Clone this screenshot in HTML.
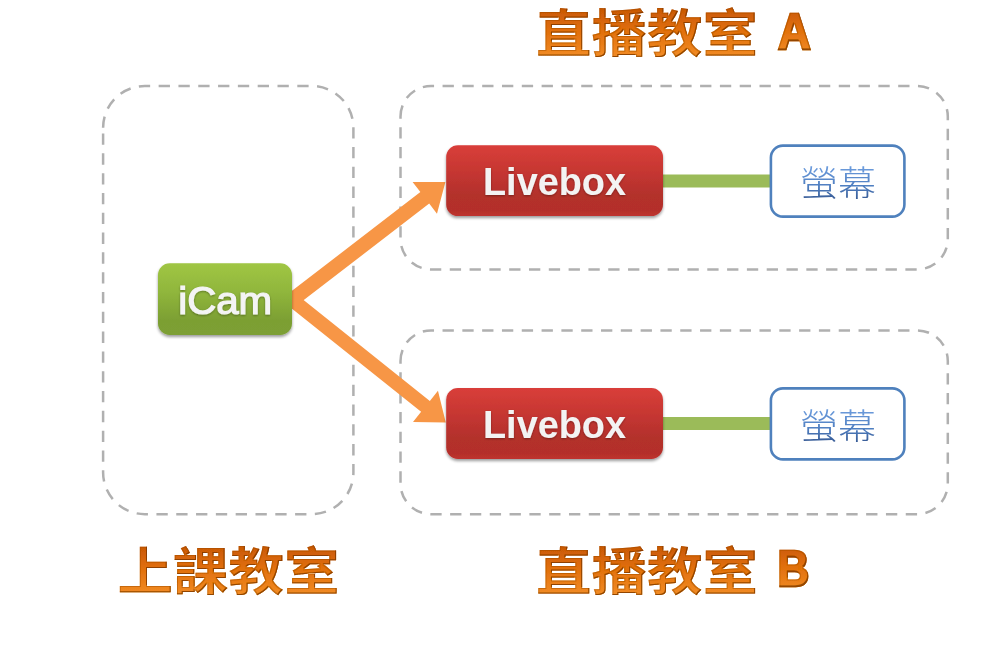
<!DOCTYPE html>
<html lang="zh-Hant">
<head>
<meta charset="utf-8">
<title>直播教室</title>
<style>
html,body{margin:0;padding:0;background:#fff;}
body{width:999px;height:645px;overflow:hidden;font-family:"Liberation Sans","Noto Sans CJK TC",sans-serif;}
svg{display:block;}
</style>
</head>
<body>
<svg width="999" height="645" viewBox="0 0 999 645">
<defs>
<linearGradient id="gGreen" x1="0" y1="0" x2="0" y2="1">
 <stop offset="0" stop-color="#a0c644"/><stop offset="0.4" stop-color="#90b63c"/><stop offset="0.8" stop-color="#7c9f33"/><stop offset="1" stop-color="#7d9f34"/>
</linearGradient>
<linearGradient id="gRed" x1="0" y1="0" x2="0" y2="1">
 <stop offset="0" stop-color="#d93e3a"/><stop offset="0.35" stop-color="#c73732"/><stop offset="0.7" stop-color="#b3302c"/><stop offset="0.92" stop-color="#b42f2b"/><stop offset="1" stop-color="#bf322e"/>
</linearGradient>
<linearGradient id="gBlueTxt" x1="0" y1="0" x2="0" y2="1">
 <stop offset="0" stop-color="#6f9fe0"/><stop offset="0.55" stop-color="#4f7ec0"/><stop offset="1" stop-color="#2f4f86"/>
</linearGradient>
<linearGradient id="gOrTxt" x1="0" y1="0" x2="0" y2="1">
 <stop offset="0" stop-color="#c45404"/><stop offset="0.4" stop-color="#de6c0b"/><stop offset="0.8" stop-color="#ee851e"/><stop offset="1" stop-color="#f39230"/>
</linearGradient>
<filter id="sh" x="-10%" y="-20%" width="120%" height="150%">
 <feGaussianBlur in="SourceAlpha" stdDeviation="1.6"/>
 <feOffset dx="0" dy="1.8" result="b"/>
 <feComponentTransfer><feFuncA type="linear" slope="0.4"/></feComponentTransfer>
 <feMerge><feMergeNode/><feMergeNode in="SourceGraphic"/></feMerge>
</filter>
<filter id="tsh" x="-5%" y="-10%" width="110%" height="130%">
 <feGaussianBlur in="SourceAlpha" stdDeviation="0.8"/>
 <feOffset dx="0" dy="1" result="b"/>
 <feComponentTransfer><feFuncA type="linear" slope="0.35"/></feComponentTransfer>
 <feMerge><feMergeNode/><feMergeNode in="SourceGraphic"/></feMerge>
</filter>
<filter id="bevel" x="-5%" y="-10%" width="110%" height="125%">
 <feMorphology in="SourceAlpha" operator="erode" radius="0.6" result="er"/>
 <feComposite in="SourceAlpha" in2="er" operator="out" result="rim"/>
 <feFlood flood-color="#a34c04" flood-opacity="0.55"/>
 <feComposite in2="rim" operator="in" result="rimc"/>
 <feOffset in="SourceAlpha" dx="-1.1" dy="-1.6" result="o1"/>
 <feComposite in="SourceAlpha" in2="o1" operator="out" result="brEdge"/>
 <feFlood flood-color="#7e3800" flood-opacity="0.8"/>
 <feComposite in2="brEdge" operator="in" result="dark"/>
 <feMerge><feMergeNode in="SourceGraphic"/><feMergeNode in="rimc"/><feMergeNode in="dark"/></feMerge>
</filter>
<filter id="soft" x="-5%" y="-10%" width="110%" height="120%">
 <feGaussianBlur stdDeviation="0.25"/>
</filter>
</defs>
<rect width="999" height="645" fill="#ffffff"/>
<path d="M103.10,127.72 A41.72,41.72 0 0 1 144.82,86.00 L311.68,86.00 A41.72,41.72 0 0 1 353.40,127.72 L353.40,472.48 A41.72,41.72 0 0 1 311.68,514.20 L144.82,514.20 A41.72,41.72 0 0 1 103.10,472.48 Z" fill="none" stroke="#b0b0b0" stroke-width="2.5" stroke-dasharray="11.32 8.49"/>
<path d="M400.50,116.57 A30.57,30.57 0 0 1 431.07,86.00 L917.23,86.00 A30.57,30.57 0 0 1 947.80,116.57 L947.80,238.83 A30.57,30.57 0 0 1 917.23,269.40 L431.07,269.40 A30.57,30.57 0 0 1 400.50,238.83 Z" fill="none" stroke="#b0b0b0" stroke-width="2.5" stroke-dasharray="11.32 8.49"/>
<path d="M400.50,361.03 A30.63,30.63 0 0 1 431.13,330.40 L917.17,330.40 A30.63,30.63 0 0 1 947.80,361.03 L947.80,483.57 A30.63,30.63 0 0 1 917.17,514.20 L431.13,514.20 A30.63,30.63 0 0 1 400.50,483.57 Z" fill="none" stroke="#b0b0b0" stroke-width="2.5" stroke-dasharray="11.32 8.49"/>
<rect x="655" y="174.50" width="120" height="13" fill="#9bbb59"/>
<rect x="655" y="417.00" width="120" height="13" fill="#9bbb59"/>
<polygon points="291.42,309.55 429.21,203.60 436.98,213.70 445.40,182.00 412.60,181.99 420.37,192.10 282.58,298.05" fill="#f79646"/>
<polygon points="282.63,301.27 421.11,411.85 413.00,422.01 445.80,422.60 437.96,390.75 429.85,400.91 291.37,290.33" fill="#f79646"/>
<g filter="url(#sh)"><rect x="158" y="263.2" width="134" height="71.8" rx="11.8" fill="url(#gGreen)"/></g>
<text x="225.2" y="313.9" font-family="'Liberation Sans', sans-serif" font-size="39" fill="#f4f4f4" stroke="#f4f4f4" stroke-width="1.2" text-anchor="middle" textLength="94" lengthAdjust="spacingAndGlyphs" filter="url(#tsh)">iCam</text>
<g filter="url(#sh)"><rect x="446.2" y="145.2" width="216.8" height="70.9" rx="11.7" fill="url(#gRed)"/></g>
<text x="554.5" y="195.3" font-family="'Liberation Sans', sans-serif" font-weight="bold" font-size="39.5" fill="#f3f3f3" text-anchor="middle" textLength="143" lengthAdjust="spacingAndGlyphs" filter="url(#tsh)">Livebox</text>
<g filter="url(#sh)"><rect x="446.2" y="388.0" width="216.8" height="70.9" rx="11.7" fill="url(#gRed)"/></g>
<text x="554.5" y="438.1" font-family="'Liberation Sans', sans-serif" font-weight="bold" font-size="39.5" fill="#f3f3f3" text-anchor="middle" textLength="143" lengthAdjust="spacingAndGlyphs" filter="url(#tsh)">Livebox</text>
<rect x="770.9" y="145.6" width="133.5" height="71" rx="12" fill="#ffffff" stroke="#4f81bd" stroke-width="2.6"/>
<text transform="translate(838 196.3) scale(1 0.92)" x="0" y="0" font-family="'Liberation Sans', 'Noto Sans CJK TC', sans-serif" font-weight="300" font-size="38" fill="url(#gBlueTxt)" text-anchor="middle" filter="url(#soft)">螢幕</text>
<rect x="770.9" y="388.4" width="133.5" height="71" rx="12" fill="#ffffff" stroke="#4f81bd" stroke-width="2.6"/>
<text transform="translate(838 439.1) scale(1 0.92)" x="0" y="0" font-family="'Liberation Sans', 'Noto Sans CJK TC', sans-serif" font-weight="300" font-size="38" fill="url(#gBlueTxt)" text-anchor="middle" filter="url(#soft)">螢幕</text>
<text transform="translate(536 52.0) scale(1 0.93)" x="0" y="0" font-family="'Liberation Sans', 'Noto Sans CJK TC', sans-serif" font-weight="bold" font-size="55.5" fill="url(#gOrTxt)" filter="url(#bevel)">直播教室</text>
<text transform="translate(778.0 49.3) scale(0.9 1)" x="0" y="0" font-family="'Liberation Sans', 'Noto Sans CJK TC', sans-serif" font-weight="bold" font-size="50.3" fill="url(#gOrTxt)" stroke="url(#gOrTxt)" stroke-width="2.4" stroke-linejoin="miter" filter="url(#bevel)">A</text>
<text transform="translate(117.5 589.5) scale(1 0.93)" x="0" y="0" font-family="'Liberation Sans', 'Noto Sans CJK TC', sans-serif" font-weight="bold" font-size="55.5" fill="url(#gOrTxt)" filter="url(#bevel)">上課教室</text>
<text transform="translate(536 589.5) scale(1 0.93)" x="0" y="0" font-family="'Liberation Sans', 'Noto Sans CJK TC', sans-serif" font-weight="bold" font-size="55.5" fill="url(#gOrTxt)" filter="url(#bevel)">直播教室</text>
<text transform="translate(777.6 586.4) scale(0.875 1)" x="0" y="0" font-family="'Liberation Sans', 'Noto Sans CJK TC', sans-serif" font-weight="bold" font-size="50.3" fill="url(#gOrTxt)" stroke="url(#gOrTxt)" stroke-width="2.4" stroke-linejoin="miter" filter="url(#bevel)">B</text>
</svg>
</body>
</html>
